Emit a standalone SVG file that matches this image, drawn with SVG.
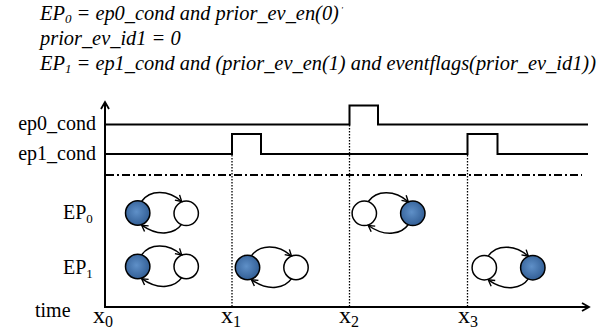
<svg xmlns="http://www.w3.org/2000/svg" width="606" height="330" viewBox="0 0 606 330">
<style>
text{font-family:'Liberation Serif','Times New Roman',Times,serif;fill:#000}
.hdr{font-style:italic;font-size:20.4px}
.lbl{font-size:20px}
.xl{font-size:24px}
.wave{fill:none;stroke:#000;stroke-width:2}
.axis{fill:none;stroke:#000;stroke-width:2}
.dot{fill:none;stroke:#000;stroke-width:1.3;stroke-dasharray:1.5 1.5}
.dashdot{fill:none;stroke:#000;stroke-width:1.8;stroke-dasharray:8 3 2 3}
.on{fill:url(#blue);stroke:#000;stroke-width:1.5}
.off{fill:#fff;stroke:#000;stroke-width:1.5}
.arc{fill:none;stroke:#000;stroke-width:1.5;marker-end:url(#ah)}
</style>
<defs>
<radialGradient id="blue" cx="0.45" cy="0.45" r="0.6">
<stop offset="0" stop-color="#5f90c8"/>
<stop offset="1" stop-color="#2f5b92"/>
</radialGradient>
<marker id="ah" markerUnits="userSpaceOnUse" markerWidth="12" markerHeight="12" viewBox="-7 -6 12 12" refX="0" refY="0" orient="auto">
<path d="M -6 -3.5 L 0 0 L -6 3.5" fill="none" stroke="#000" stroke-width="1.4"/>
</marker>
<marker id="axh" markerUnits="userSpaceOnUse" markerWidth="14" markerHeight="14" viewBox="-9 -7 14 14" refX="0" refY="0" orient="auto">
<path d="M -7 -4 L 0 0 L -7 4" fill="none" stroke="#000" stroke-width="1.8"/>
</marker>
<g id="loops">
<path class="arc" d="M 4 -11.8 C 12 -23, 30 -24, 44 -11.5"/>
<path class="arc" d="M 44 11.2 C 38 20, 22 25, 4 12.2"/>
</g>
</defs>

<g id="header">
<text class="hdr" x="40" y="20">EP<tspan font-size="13" dy="3">0</tspan><tspan dy="-3"> = ep0_cond and prior_ev_en(0)</tspan><tspan dx="2" dy="-7" font-size="9">'</tspan></text>
<text class="hdr" x="40" y="45">prior_ev_id1 = 0</text>
<text class="hdr" x="40" y="70">EP<tspan font-size="13" dy="3">1</tspan><tspan dy="-3"> = ep1_cond and (prior_ev_en(1) and eventflags(prior_ev_id1))</tspan></text>
</g>

<g id="labels">
<text class="lbl" x="96" y="130" text-anchor="end">ep0_cond</text>
<text class="lbl" x="96" y="160" text-anchor="end">ep1_cond</text>
<text class="lbl" x="63" y="219">EP<tspan font-size="13" dy="4">0</tspan></text>
<text class="lbl" x="63" y="274">EP<tspan font-size="13" dy="4">1</tspan></text>
<text class="lbl" x="35" y="317">time</text>
<text class="xl" x="93" y="323">x<tspan font-size="16" dy="4">0</tspan></text>
<text class="xl" x="221" y="323">x<tspan font-size="16" dy="4">1</tspan></text>
<text class="xl" x="339" y="323">x<tspan font-size="16" dy="4">2</tspan></text>
<text class="xl" x="458" y="323">x<tspan font-size="16" dy="4">3</tspan></text>
</g>

<g id="axes">
<path class="axis" d="M 105 307 L 105 102" marker-end="url(#axh)"/>
<path class="axis" d="M 104 307 L 589 307" marker-end="url(#axh)"/>
</g>

<g id="waveforms">
<path class="wave" d="M 105 124.5 L 349.5 124.5 L 349.5 105.5 L 378 105.5 L 378 124.5 L 588 124.5"/>
<path class="wave" d="M 105 154 L 232 154 L 232 134 L 261 134 L 261 154 L 467.5 154 L 467.5 134 L 497.5 134 L 497.5 154 L 588 154"/>
<path class="dashdot" d="M 106 175 L 582 175"/>
</g>

<g id="markers">
<path class="dot" d="M 232 155 L 232 306"/>
<path class="dot" d="M 349.5 125 L 349.5 306"/>
<path class="dot" d="M 467.5 155 L 467.5 306"/>
</g>

<g id="ep0-x0"><circle class="on" cx="137.7" cy="213" r="12.2"/><circle class="off" cx="186.2" cy="213.3" r="12.2"/></g>
<g id="ep1-x0"><circle class="on" cx="137.7" cy="266.5" r="12.2"/><circle class="off" cx="186.2" cy="266.5" r="12.2"/></g>
<g id="ep1-x1"><circle class="on" cx="247.5" cy="267.5" r="12.2"/><circle class="off" cx="296" cy="267.5" r="12.2"/></g>
<g id="ep0-x2"><circle class="off" cx="364.3" cy="213.3" r="12.2"/><circle class="on" cx="412.8" cy="213.3" r="12.2"/></g>
<g id="ep1-x3"><circle class="off" cx="484.3" cy="267.7" r="12.2"/><circle class="on" cx="532.8" cy="267.7" r="12.2"/></g>

<g id="connectors">
<use href="#loops" x="137.7" y="213"/>
<use href="#loops" x="137.7" y="266.5"/>
<use href="#loops" x="247.5" y="267.5"/>
<use href="#loops" x="364.3" y="213.3"/>
<use href="#loops" x="484.3" y="267.7"/>
</g>
</svg>
